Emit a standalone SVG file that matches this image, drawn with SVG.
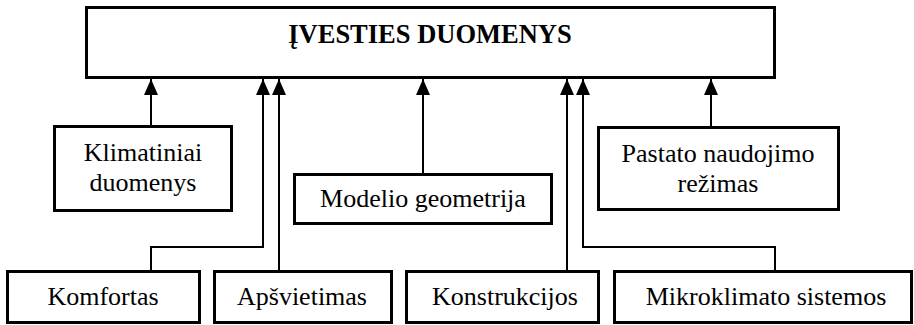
<svg xmlns="http://www.w3.org/2000/svg" width="914" height="325" viewBox="0 0 914 325">
<style>
.box{fill:#fff;stroke:#000;stroke-width:3}
text{font-family:'Liberation Serif','Times New Roman',Times,serif;font-size:26px;fill:#000;text-anchor:middle}
.b{font-weight:bold;font-size:26.5px}
.c{fill:none;stroke:#000;stroke-width:2;marker-end:url(#ah)}
</style>
<defs>
<marker id="ah" viewBox="0 0 16 14" refX="16" refY="7" markerWidth="16" markerHeight="14" markerUnits="userSpaceOnUse" orient="auto">
<path d="M0,0 L16,7 L0,14 Z" fill="#000"/>
</marker>
</defs>
<rect width="914" height="325" fill="#fff"/>
<g id="connectors">
<path class="c" d="M151,126 V79"/>
<path class="c" d="M151,271 V247 H263 V79"/>
<path class="c" d="M279,271 V79"/>
<path class="c" d="M423,174 V79"/>
<path class="c" d="M567,271 V79"/>
<path class="c" d="M775,271 V247 H583 V79"/>
<path class="c" d="M711,127 V79"/>
</g>
<g font-family="'Liberation Serif', 'Times New Roman', Times, serif">
<g id="ivesties">
<rect class="box" x="86.5" y="7.5" width="688" height="70"/>
<text class="b" x="430" y="43">ĮVESTIES DUOMENYS</text>
</g>
<g id="klimatiniai">
<rect class="box" x="54.5" y="126.5" width="177" height="84"/>
<text x="143" y="161">Klimatiniai</text>
<text x="143" y="191">duomenys</text>
</g>
<g id="modelio">
<rect class="box" x="294.5" y="174.5" width="257" height="49"/>
<text x="423" y="207">Modelio geometrija</text>
</g>
<g id="pastato">
<rect class="box" x="598.5" y="127.5" width="240" height="82"/>
<text x="718" y="162">Pastato naudojimo</text>
<text x="718" y="192">režimas</text>
</g>
<g id="komfortas">
<rect class="box" x="7.5" y="271.5" width="192" height="51"/>
<text x="103" y="305">Komfortas</text>
</g>
<g id="apsvietimas">
<rect class="box" x="214.5" y="271.5" width="177" height="51"/>
<text x="302" y="305">Apšvietimas</text>
</g>
<g id="konstrukcijos">
<rect class="box" x="406.5" y="271.5" width="192" height="51"/>
<text x="505" y="305">Konstrukcijos</text>
</g>
<g id="mikroklimato">
<rect class="box" x="614.5" y="271.5" width="297" height="51"/>
<text x="766" y="305">Mikroklimato sistemos</text>
</g>
</g>
</svg>
